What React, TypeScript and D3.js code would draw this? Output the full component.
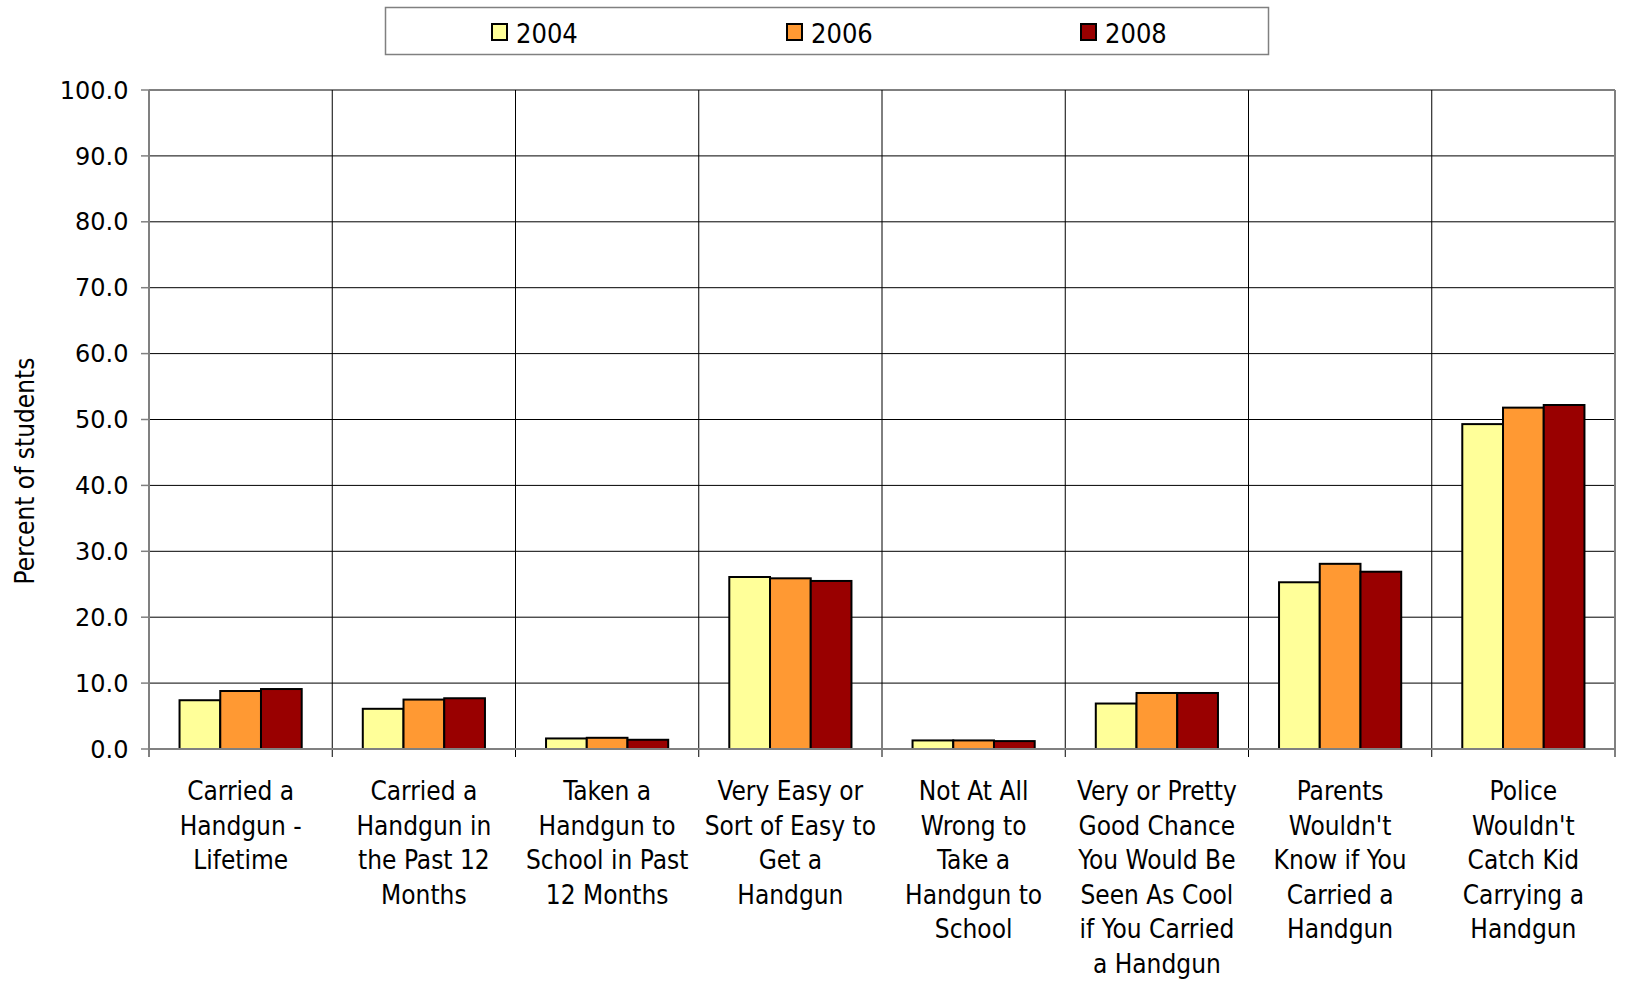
import React from "react";
import * as d3 from "d3";

const categories: string[][] = [
  ["Carried a", "Handgun -", "Lifetime"],
  ["Carried a", "Handgun in", "the Past 12", "Months"],
  ["Taken a", "Handgun to", "School in Past", "12 Months"],
  ["Very Easy or", "Sort of Easy to", "Get a", "Handgun"],
  ["Not At All", "Wrong to", "Take a", "Handgun to", "School"],
  ["Very or Pretty", "Good Chance", "You Would Be", "Seen As Cool", "if You Carried", "a Handgun"],
  ["Parents", "Wouldn't", "Know if You", "Carried a", "Handgun"],
  ["Police", "Wouldn't", "Catch Kid", "Carrying a", "Handgun"],
];

const years = ["2004", "2006", "2008"];
const values2004 = [7.4, 6.1, 1.6, 26.1, 1.3, 6.9, 25.3, 49.3];
const values2006 = [8.8, 7.5, 1.7, 25.9, 1.3, 8.5, 28.1, 51.8];
const values2008 = [9.1, 7.7, 1.4, 25.5, 1.2, 8.5, 26.9, 52.2];
const yTicks = [0, 10, 20, 30, 40, 50, 60, 70, 80, 90, 100];

const seriesValues = [values2004, values2006, values2008];
const colors = ["#FFFF99", "#FF9933", "#990000"];

const W = 1625;
const H = 981;
const left = 149;
const right = 1615;
const top = 90;
const bottom = 749;

const condensed = "'DejaVu Sans Condensed', 'DejaVu Sans', sans-serif";
const regular = "'DejaVu Sans', Verdana, sans-serif";

export default function App() {
  const keys = categories.map((_, i) => String(i));
  const x0 = d3.scaleBand<string>().domain(keys).range([left, right]).padding(0);
  const x1 = d3
    .scaleBand<string>()
    .domain(years)
    .range([0, x0.bandwidth()])
    .paddingInner(0)
    .paddingOuter(0.75);
  const y = d3.scaleLinear().domain([0, 100]).range([bottom, top]);

  const boundaries = keys.map((k) => x0(k)!).concat([right]);
  const legendX = [492, 787, 1081];

  return (
    <svg
      width={W}
      height={H}
      style={{ position: "absolute", left: 0, top: 0, background: "#fff" }}
    >
      {/* legend */}
      <rect x={385.5} y={7.5} width={883} height={47} fill="#fff" stroke="#808080" strokeWidth={1.5} />
      {years.map((yr, i) => (
        <g key={yr}>
          <rect x={legendX[i]} y={24} width={15} height={16} fill={colors[i]} stroke="#000" strokeWidth={2} />
          <text x={legendX[i] + 24} y={42.5} fontFamily={condensed} fontSize={27} fill="#000">
            {yr}
          </text>
        </g>
      ))}

      {/* horizontal gridlines */}
      {yTicks.filter((t) => t > 0).map((t) => (
        <line key={t} x1={left} x2={right} y1={y(t)} y2={y(t)} stroke="#000" strokeWidth={1} />
      ))}
      {/* category dividers */}
      {boundaries.map((bx, i) => {
        const edge = i === 0 || i === boundaries.length - 1;
        return (
          <line
            key={i}
            x1={bx}
            x2={bx}
            y1={top}
            y2={bottom + 8}
            stroke={edge ? "#808080" : "#000"}
            strokeWidth={edge ? 2 : 1}
          />
        );
      })}

      {/* bars */}
      {seriesValues.map((vals, s) =>
        vals.map((v, c) => (
          <rect
            key={`${s}-${c}`}
            x={x0(String(c))! + x1(years[s])!}
            y={y(v)}
            width={x1.bandwidth()}
            height={y(0) - y(v)}
            fill={colors[s]}
            stroke="#000"
            strokeWidth={2}
          />
        ))
      )}

      {/* baseline */}
      <line x1={left} x2={right} y1={y(0)} y2={y(0)} stroke="#808080" strokeWidth={2} />

      {/* y axis ticks + labels */}
      {yTicks.map((t) => (
        <g key={t}>
          <line x1={left - 8} x2={left} y1={y(t)} y2={y(t)} stroke="#808080" strokeWidth={1.5} />
          <text
            x={128.5}
            y={y(t)}
            dy="0.36em"
            textAnchor="end"
            fontFamily={regular}
            fontSize={24}
            fill="#000"
          >
            {t.toFixed(1)}
          </text>
        </g>
      ))}

      {/* y axis title */}
      <text
        transform="translate(34, 471) rotate(-90)"
        textAnchor="middle"
        fontFamily={condensed}
        fontSize={26}
        fill="#000"
      >
        Percent of students
      </text>

      {/* category labels */}
      {categories.map((lines, c) => {
        const cx = x0(String(c))! + x0.bandwidth() / 2;
        return (
          <text key={c} textAnchor="middle" fontFamily={condensed} fontSize={26} fill="#000">
            {lines.map((ln, li) => (
              <tspan key={li} x={cx} y={800 + li * 34.6}>
                {ln}
              </tspan>
            ))}
          </text>
        );
      })}
    </svg>
  );
}
